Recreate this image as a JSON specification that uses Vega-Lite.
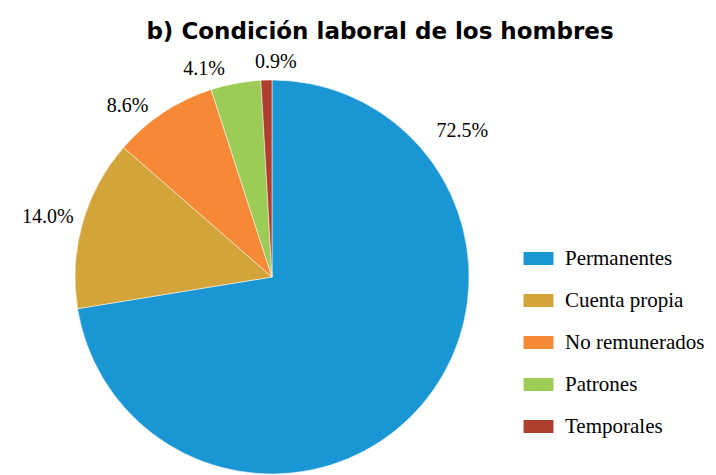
{
  "$schema": "https://vega.github.io/schema/vega-lite/v6.json",
  "autosize": {"type": "none"},
  "padding": {"left": 75, "top": 80, "right": 247, "bottom": 1},
  "width": 394,
  "height": 394,
  "background": "white",
  "title": {
    "text": "b) Condición laboral de los hombres",
    "font": "DejaVu Sans",
    "fontWeight": "bold",
    "fontSize": 23,
    "color": "black",
    "anchor": "middle",
    "dx": 108,
    "offset": 8
  },
  "data": {
    "values": [
      {"categoria": "Permanentes", "pct": 72.5, "etiqueta": "72.5%"},
      {"categoria": "Cuenta propia", "pct": 14.0, "etiqueta": "14.0%"},
      {"categoria": "No remunerados", "pct": 8.6, "etiqueta": "8.6%"},
      {"categoria": "Patrones", "pct": 4.1, "etiqueta": "4.1%"},
      {"categoria": "Temporales", "pct": 0.9, "etiqueta": "0.9%"}
    ]
  },
  "transform": [
    {"window": [{"op": "row_number", "as": "orden"}]},
    {"stack": "pct", "groupby": [], "sort": [{"field": "orden", "order": "ascending"}], "as": ["ini", "fin"]},
    {"calculate": "(datum.ini + datum.fin) / 2", "as": "medio"}
  ],
  "layer": [
    {
      "mark": {"type": "arc", "stroke": "white", "strokeWidth": 0.5},
      "encoding": {
        "theta": {"field": "ini", "type": "quantitative", "scale": {"domain": [0, 100.1]}},
        "theta2": {"field": "fin"},
        "color": {
          "field": "categoria",
          "type": "nominal",
          "sort": ["Permanentes", "Cuenta propia", "No remunerados", "Patrones", "Temporales"],
          "scale": {
            "domain": ["Permanentes", "Cuenta propia", "No remunerados", "Patrones", "Temporales"],
            "range": ["#1A96D4", "#D2A43A", "#F68935", "#9CCB56", "#AE3E2E"]
          },
          "legend": {
            "title": null,
            "orient": "none",
            "legendX": 453,
            "legendY": 168,
            "padding": 0,
            "symbolType": "M-2.3,-1H2.3V1H-2.3Z",
            "symbolSize": 169,
            "symbolStrokeWidth": 0,
            "symbolOpacity": 1,
            "labelFont": "Liberation Serif",
            "labelFontSize": 21,
            "labelColor": "black",
            "labelOffset": 16,
            "rowPadding": 20,
            "labelLimit": 300
          }
        }
      }
    },
    {
      "transform": [{"filter": "datum.categoria == 'Cuenta propia'"}],
      "mark": {"type": "text", "radius": 233, "dy": 4, "baseline": "middle", "font": "Liberation Serif", "fontSize": 20, "color": "black"},
      "encoding": {
        "theta": {"field": "medio", "type": "quantitative"},
        "text": {"field": "etiqueta"}
      }
    },
    {
      "transform": [{"filter": "datum.categoria == 'No remunerados'"}],
      "mark": {"type": "text", "radius": 222, "dx": -22, "dy": 14, "baseline": "middle", "font": "Liberation Serif", "fontSize": 20, "color": "black"},
      "encoding": {
        "theta": {"field": "medio", "type": "quantitative"},
        "text": {"field": "etiqueta"}
      }
    },
    {
      "transform": [{"filter": "datum.categoria == 'Patrones'"}],
      "mark": {"type": "text", "radius": 217, "dx": -28, "dy": 5, "baseline": "middle", "font": "Liberation Serif", "fontSize": 20, "color": "black"},
      "encoding": {
        "theta": {"field": "medio", "type": "quantitative"},
        "text": {"field": "etiqueta"}
      }
    },
    {
      "transform": [{"filter": "datum.categoria == 'Temporales'"}],
      "mark": {"type": "text", "radius": 215, "dx": 10, "baseline": "middle", "font": "Liberation Serif", "fontSize": 20, "color": "black"},
      "encoding": {
        "theta": {"field": "medio", "type": "quantitative"},
        "text": {"field": "etiqueta"}
      }
    },
    {
      "transform": [{"filter": "datum.categoria == 'Permanentes'"}],
      "mark": {"type": "text", "radius": 240, "baseline": "middle", "font": "Liberation Serif", "fontSize": 20, "color": "black"},
      "encoding": {
        "theta": {"datum": 14.6, "type": "quantitative"},
        "text": {"field": "etiqueta"}
      }
    }
  ],
  "config": {"view": {"stroke": null}}
}
